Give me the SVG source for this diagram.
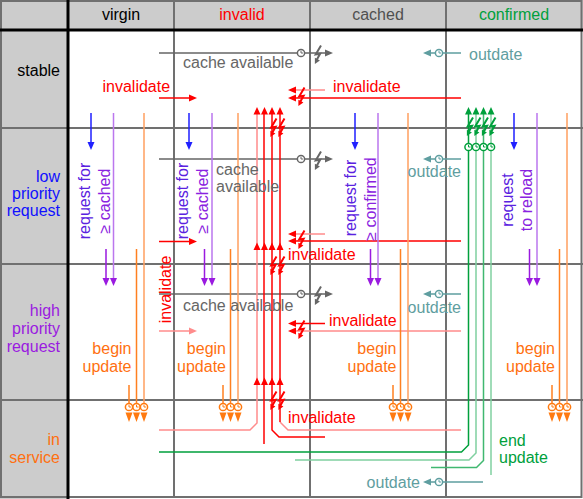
<svg xmlns="http://www.w3.org/2000/svg" width="583" height="499" viewBox="0 0 583 499">
<defs>
<style>
text{font-family:"Liberation Sans",Arial,sans-serif;font-size:16px}
.grid{stroke:#707070;stroke-width:2;fill:none}
.thick{stroke:#000;stroke-width:3;fill:none}
.ln{fill:none;stroke-width:1.5}
.red{stroke:#ff0000}.pink{stroke:#ff8c8c}
.fred{fill:#ff0000}.fpink{fill:#ff8c8c}
.gray{stroke:#666}.fgray{fill:#666}
.teal{stroke:#5f9ea0}.fteal{fill:#5f9ea0}
.grn{stroke:#00a03c}.lgrn{stroke:#80d0a0}.mgrn{stroke:#40b870}.fgrn{fill:#00a03c}
.blue{stroke:#2020ff}.fblue{fill:#2020ff}
.pur{stroke:#9a1ae0}.lpur{stroke:#bb77ee}.fpur{fill:#9a1ae0}
.org{stroke:#ff8020}.lorg{stroke:#ffa060}.forg{fill:#ff7a10}
.tred{fill:#ff0000}.tgray{fill:#666}.tteal{fill:#5f9ea0}.torg{fill:#ff7010}.tgrn{fill:#00a03c}
.tblue{fill:#1010ff}.tpur{fill:#9a1ae0}.tv1{fill:#5a22e0}.tv2{fill:#8a22e0}
.end{text-anchor:end}.mid{text-anchor:middle}
</style>
<g id="clk"><circle r="3.6" fill="#fff" stroke="currentColor" stroke-width="1.5"/><path d="M0,-2.2V0H2" fill="none" stroke="currentColor" stroke-width="1"/></g>
<g id="bolt"><path d="M3.5,-8.5L-1.8,0.5L2.6,-0.2L-0.6,5.5" fill="none" stroke="currentColor" stroke-width="2" stroke-linejoin="miter"/><path d="M-2.6,10L2.4,6.4L-2.6,3.8Z" fill="currentColor"/></g>
</defs>

<g id="grid">
<rect x="0" y="0" width="583" height="499" fill="#fff"/>
<rect x="0" y="0" width="583" height="30" fill="#cccccc"/>
<rect x="0" y="0" width="68" height="499" fill="#cccccc"/>
<path class="grid" d="M174,0V498M310,0V498M446,0V498M0,128H583M0,264H583M0,400H583"/>
<rect x="1" y="1" width="580.5" height="496" class="grid"/>
<path class="thick" d="M0,30H583M68,0V499"/>
</g>

<g id="headers">
<text x="121" y="20" class="mid">virgin</text>
<text x="242" y="20" class="mid tred">invalid</text>
<text x="378" y="20" class="mid" fill="#505050">cached</text>
<text x="514" y="20" class="mid tgrn">confirmed</text>
<text x="60" y="76" class="end">stable</text>
<text x="60" y="182" class="end tblue">low</text>
<text x="60" y="199" class="end tblue">priority</text>
<text x="60" y="216" class="end tblue">request</text>
<text x="60" y="316" class="end tpur">high</text>
<text x="60" y="334" class="end tpur">priority</text>
<text x="60" y="352" class="end tpur">request</text>
<text x="60" y="445" class="end torg">in</text>
<text x="60" y="463" class="end torg">service</text>
</g>

<g id="connectors">
<g color="#666">
<path class="ln gray" d="M159,53H297.5M304.5,53H326M159,159H297.5M304.5,159H326M159,294H297.5M304.5,294H326"/>
<path class="fgray" d="M333,53L325,49.5V56.5ZM333,159L325,155.5V162.5ZM333,294L325,290.5V297.5Z"/>
<use href="#clk" x="301" y="53"/><use href="#clk" x="301" y="159"/><use href="#clk" x="301" y="294"/>
<use href="#bolt" x="317.5" y="54"/><use href="#bolt" x="317.5" y="160"/><use href="#bolt" x="317.5" y="295"/>
</g>
<g color="#5f9ea0">
<path class="ln teal" d="M461,53H443M435,53H430M461,159H443M435,159H430M461,294H443M435,294H430M483,482H443M435,482H430"/>
<path class="fteal" d="M423,53L431,49.5V56.5ZM423,159L431,155.5V162.5ZM423,294L431,290.5V297.5ZM423,482L431,478.5V485.5Z"/>
<use href="#clk" x="439" y="53"/><use href="#clk" x="439" y="159"/><use href="#clk" x="439" y="294"/><use href="#clk" x="439" y="482"/>
</g>
<path class="ln pink" d="M325,90H295M325,234H295M461,331H295"/>
<path class="ln red" d="M461,98H295M461,241H295M325,323.5H295"/>
<path class="fred" d="M288,90L296,86.5V93.5ZM288,98L296,94.5V101.5ZM288,234L296,230.5V237.5ZM288,241L296,237.5V244.5ZM288,323.5L296,320V327ZM288,331L296,327.5V334.5Z"/>
<g color="#ff0000"><use href="#bolt" x="301" y="96"/><use href="#bolt" x="301" y="239"/><use href="#bolt" x="301" y="329"/></g>
<path class="ln red" d="M159,98H190M159,241.5H190"/>
<path class="fred" d="M197,98L189,94.5V101.5ZM197,241.5L189,238V245Z"/>
<path class="ln pink" d="M159,331H190"/>
<path class="fpink" d="M197,331L189,327.5V334.5Z"/>
<path class="ln pink" d="M159,430H250L257,423V114"/>
<path class="ln red" d="M264,444V114"/>
<path class="ln red" d="M325,437H279L272,430V114"/>
<path class="ln pink" d="M461,430H288L280,422"/>
<path class="ln red" d="M280,422V114"/>
<path class="fred" d="M257,107L253.5,114.5H260.5ZM264.5,107L261,114.5H268ZM272,107L268.5,114.5H275.5ZM280,107L276.5,114.5H283.5ZM257,242.5L253.5,250H260.5ZM264.5,242.5L261,250H268ZM272,242.5L268.5,250H275.5ZM280,242.5L276.5,250H283.5ZM257,377.5L253.5,385H260.5ZM264.5,377.5L261,385H268ZM272,377.5L268.5,385H275.5ZM280,377.5L276.5,385H283.5Z"/>
<g color="#ff0000"><use href="#bolt" x="273" y="127"/><use href="#bolt" x="281" y="127"/><use href="#bolt" x="273" y="265"/><use href="#bolt" x="281" y="265"/><use href="#bolt" x="273" y="400"/><use href="#bolt" x="281" y="400"/></g>
<path class="ln grn" d="M159,452H461.5L468.5,445V114"/>
<path class="ln lgrn" d="M295,460H469L476,453V114"/>
<path class="ln mgrn" d="M431,467.5H476.5L483.5,460.5V114"/>
<path class="ln lgrn" d="M491,475V114"/>
<path class="fgrn" d="M468.5,107L465,114.5H472ZM476,107L472.5,114.5H479.5ZM483.5,107L480,114.5H487ZM491,107L487.5,114.5H494.5Z"/>
<g color="#00a03c"><use href="#bolt" x="469.5" y="126"/><use href="#bolt" x="477" y="126"/><use href="#bolt" x="484.5" y="126"/><use href="#bolt" x="492" y="126"/>
<use href="#clk" x="468.5" y="147"/><use href="#clk" x="476" y="147"/><use href="#clk" x="483.5" y="147"/><use href="#clk" x="491" y="147"/></g>
<path class="ln blue" d="M91,113V143M189,113V143M355,113V143M514,113V143"/>
<path class="fblue" d="M91,150L87.5,142H94.5ZM189,150L185.5,142H192.5ZM355,150L351.5,142H358.5ZM514,150L510.5,142H517.5Z"/>
<path class="ln lpur" d="M113.5,113V279M212,113V279M378,113V279M537,113V279"/>
<path class="ln pur" d="M106,249V279M204.5,249V279M370.5,249V279M529.5,249V279"/>
<path class="fpur" d="M106,286L102.5,278H109.5ZM113.5,286L110,278H117ZM204.5,286L201,278H208ZM212,286L208.5,278H215.5ZM370.5,286L367,278H374ZM378,286L374.5,278H381.5ZM529.5,286L526,278H533ZM537,286L533.5,278H540.5Z"/>
<path class="ln lorg" d="M144,113V404M238,113V404M408,113V404M567,113V404"/>
<path class="ln org" d="M136.5,249V404M230.5,249V404M400.5,249V404M559.5,249V404M129,385V404M223,385V404M393,385V404M552,385V404"/>
<g color="#ff7a10">
<use href="#clk" x="129" y="407"/><use href="#clk" x="136.5" y="407"/><use href="#clk" x="144" y="407"/>
<use href="#clk" x="223" y="407"/><use href="#clk" x="230.5" y="407"/><use href="#clk" x="238" y="407"/>
<use href="#clk" x="393" y="407"/><use href="#clk" x="400.5" y="407"/><use href="#clk" x="408" y="407"/>
<use href="#clk" x="552" y="407"/><use href="#clk" x="559.5" y="407"/><use href="#clk" x="567" y="407"/>
</g>
<path class="forg" d="M129,422L125.5,412.5H132.5ZM136.5,422L133,412.5H140ZM144,422L140.5,412.5H147.5ZM223,422L219.5,412.5H226.5ZM230.5,422L227,412.5H234ZM238,422L234.5,412.5H241.5ZM393,422L389.5,412.5H396.5ZM400.5,422L397,412.5H404ZM408,422L404.5,412.5H411.5ZM552,422L548.5,412.5H555.5ZM559.5,422L556,412.5H563ZM567,422L563.5,412.5H570.5Z"/>
</g>

<g id="labels">
<text x="183" y="68" class="tgray">cache available</text>
<text x="216" y="175" class="tgray">cache</text>
<text x="216" y="192" class="tgray">available</text>
<text x="183" y="310.5" class="tgray">cache available</text>
<text x="469" y="60" class="tteal">outdate</text>
<text x="461" y="177" class="end tteal">outdate</text>
<text x="461" y="313" class="end tteal">outdate</text>
<text x="420" y="488" class="end tteal">outdate</text>
<text x="102.5" y="92" class="tred">invalidate</text>
<text x="333" y="92" class="tred">invalidate</text>
<text x="288" y="260" class="tred">invalidate</text>
<text x="329" y="325.5" class="tred">invalidate</text>
<text x="288" y="423" class="tred">invalidate</text>
<text transform="translate(170.5,289.5) rotate(-90)" class="mid tred">invalidate</text>
<text transform="translate(90,201) rotate(-90)" class="mid tv1">request for</text>
<text transform="translate(109.5,201) rotate(-90)" class="mid tv2">≥ cached</text>
<text transform="translate(188,201) rotate(-90)" class="mid tv1">request for</text>
<text transform="translate(207.5,201) rotate(-90)" class="mid tv2">≥ cached</text>
<text transform="translate(356,198) rotate(-90)" class="mid tv1">request for</text>
<text transform="translate(376,199) rotate(-90)" class="mid tv2">≥ confirmed</text>
<text transform="translate(513,200) rotate(-90)" class="mid tv1">request</text>
<text transform="translate(532,200) rotate(-90)" class="mid tv2">to reload</text>
<text x="131.5" y="354" class="end torg">begin</text>
<text x="131.5" y="372" class="end torg">update</text>
<text x="226" y="354" class="end torg">begin</text>
<text x="226" y="372" class="end torg">update</text>
<text x="396.5" y="354" class="end torg">begin</text>
<text x="396.5" y="372" class="end torg">update</text>
<text x="555" y="354" class="end torg">begin</text>
<text x="555" y="372" class="end torg">update</text>
<text x="499" y="445.5" class="tgrn">end</text>
<text x="499" y="462.5" class="tgrn">update</text>
</g>
</svg>
